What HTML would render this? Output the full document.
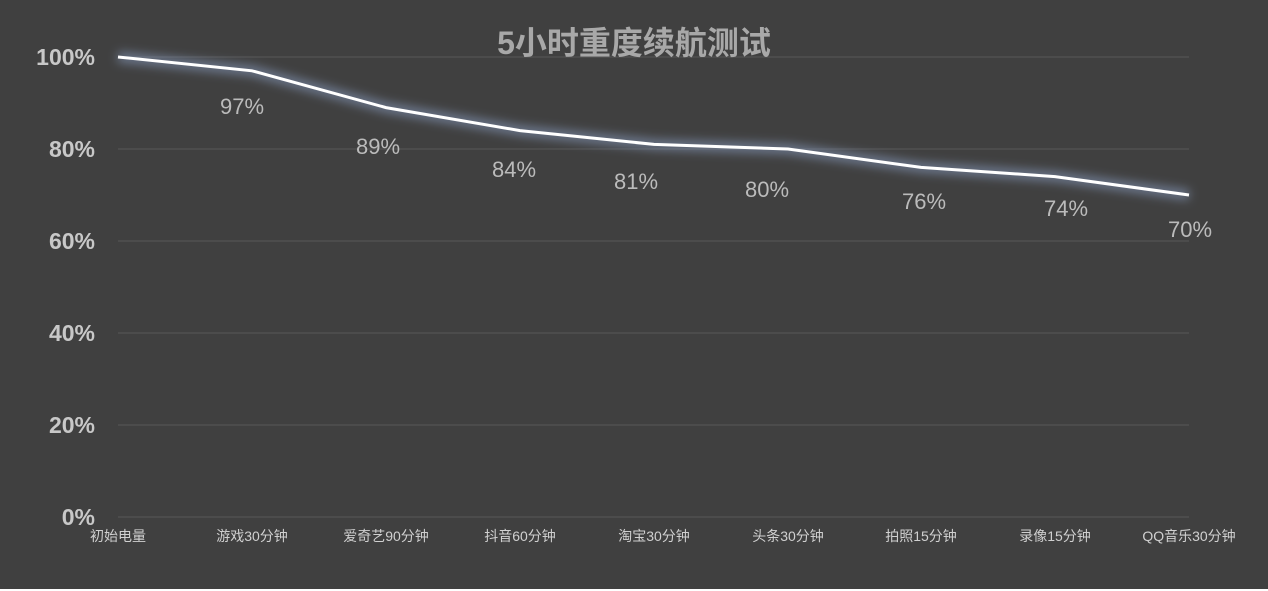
<!DOCTYPE html><html><head><meta charset="utf-8"><style>body{margin:0;background:#fff}svg{display:block}</style></head><body>
<svg width="1268" height="591" xmlns="http://www.w3.org/2000/svg" font-family="Liberation Sans, Noto Sans CJK SC, sans-serif">
<defs><filter id="g" x="-10%" y="-50%" width="120%" height="200%"><feGaussianBlur stdDeviation="5"/></filter></defs>
<rect width="1268" height="589" fill="#404040"/>
<g stroke="#585858" stroke-width="1">
<line x1="118" x2="1189" y1="57" y2="57"/><line x1="118" x2="1189" y1="149" y2="149"/><line x1="118" x2="1189" y1="241" y2="241"/><line x1="118" x2="1189" y1="333" y2="333"/><line x1="118" x2="1189" y1="425" y2="425"/><line x1="118" x2="1189" y1="517" y2="517"/></g>
<g fill="#c8c8c8" font-weight="bold" font-size="23" text-anchor="end">
<text x="95" y="65">100%</text><text x="95" y="157">80%</text><text x="95" y="249">60%</text><text x="95" y="341">40%</text><text x="95" y="433">20%</text><text x="95" y="525">0%</text></g>
<text x="634" y="54" text-anchor="middle" fill="#a8a8a8" font-weight="bold" font-size="32">5小时重度续航测试</text>
<polyline points="118,57 252,70.8 386,107.6 520,130.6 654,144.4 788,149 921,167.4 1055,176.6 1189,195" fill="none" stroke="#8da2c8" stroke-opacity="0.6" stroke-width="10" filter="url(#g)"/>
<polyline points="118,57 252,70.8 386,107.6 520,130.6 654,144.4 788,149 921,167.4 1055,176.6 1189,195" fill="none" stroke="#fff" stroke-width="3"/>
<g fill="#bbb" font-size="22" text-anchor="middle">
<text x="242" y="114">97%</text><text x="378" y="154">89%</text><text x="514" y="177">84%</text><text x="636" y="189">81%</text><text x="767" y="197">80%</text><text x="924" y="209">76%</text><text x="1066" y="216">74%</text><text x="1190" y="237">70%</text></g>
<g fill="#d0d0d0" font-size="14" text-anchor="middle">
<text x="118" y="541">初始电量</text><text x="252" y="541">游戏30分钟</text><text x="386" y="541">爱奇艺90分钟</text><text x="520" y="541">抖音60分钟</text><text x="654" y="541">淘宝30分钟</text><text x="788" y="541">头条30分钟</text><text x="921" y="541">拍照15分钟</text><text x="1055" y="541">录像15分钟</text><text x="1189" y="541">QQ音乐30分钟</text></g>
</svg></body></html>
